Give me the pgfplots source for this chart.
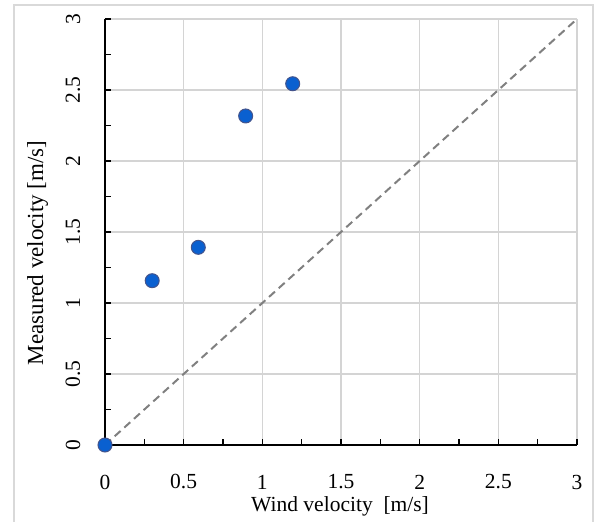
\documentclass[border=0pt]{standalone}
\usepackage{fontspec}
\setmainfont{Liberation Serif}
\usepackage{pgfplots}
\pgfplotsset{compat=1.18}
\definecolor{ptfill}{RGB}{10,96,208}
\definecolor{ptedge}{RGB}{68,84,140}
\definecolor{gridc}{RGB}{212,212,212}
\definecolor{framec}{RGB}{217,217,217}
\definecolor{diag}{RGB}{128,128,128}
\newcommand{\tickfont}{\rmfamily\fontsize{21.5bp}{25bp}\selectfont}
\begin{document}
\begin{tikzpicture}[x=1bp,y=1bp]
% chart area frame (bottom edge falls off the page, as in the reference)
\draw[framec, line width=1.5bp] (-91,-100) rectangle (488,440);
\begin{axis}[
  at={(0,0)}, anchor=south west,
  width=472bp, height=426bp, scale only axis,
  xmin=0, xmax=3, ymin=0, ymax=3,
  xtick={0,0.5,1,1.5,2,2.5,3},
  ytick={0,0.5,1,1.5,2,2.5,3},
  xticklabels={0,0.5,1,1.5,2,2.5,3},
  yticklabels={0,0.5,1,1.5,2,2.5,3},
  minor xtick={0.25,0.75,1.25,1.75,2.25,2.75},
  minor ytick={0.25,0.75,1.25,1.75,2.25,2.75},
  axis lines*=left,
  axis line style={black, line width=1.3bp},
  tick align=inside,
  major tick length=6bp, minor tick length=6bp,
  every tick/.style={black, line width=1.2bp},
  xmajorgrids, ymajorgrids,
  major grid style={gridc, line width=1.2bp},
  tick label style={font=\tickfont},
  xticklabel style={anchor=center},
  xticklabel shift=37bp,
  yticklabel style={rotate=90, anchor=center},
  yticklabel shift=32bp,
  xlabel={Wind velocity\ \ [m/s]},
  ylabel={Measured velocity [m/s]},
  xlabel style={at={(axis description cs:0.498,-0.157)}, anchor=base,
                font=\fontsize{21.5bp}{25bp}\selectfont},
  ylabel style={at={(axis description cs:-0.131,0.451)}, anchor=base,
                font=\fontsize{23bp}{27bp}\selectfont},
  clip=false]

% 1:1 reference line
\addplot[diag, line width=2bp, dash pattern=on 8bp off 5bp]
  coordinates {(0,0) (3,3)};

% measurements
\addplot[only marks, mark=*, mark size=7bp,
         mark options={fill=ptfill, draw=ptedge, line width=1bp}]
  coordinates {(0,0) (0.3,1.157) (0.593,1.392) (0.894,2.317) (1.193,2.544)};
\end{axis}
\pgfresetboundingbox
\useasboundingbox (-105,-77) rectangle (492,445);
\end{tikzpicture}
\end{document}
